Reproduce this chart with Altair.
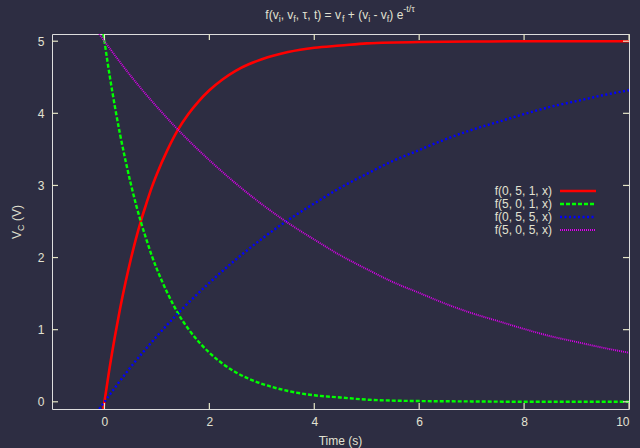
import altair as alt
import pandas as pd

# ---- data ----
x_fast = [-0.02, 0, 0.1, 0.2, 0.3, 0.4, 0.5, 0.6, 0.7, 0.8, 0.9, 1.0, 1.2, 1.4, 1.6, 1.8,
          2.0, 2.25, 2.5, 2.75, 3.0, 3.5, 4.0, 4.5, 5, 6, 7, 8, 9, 10]
y_rise_fast = [-0.10, 0.0, 0.48, 0.91, 1.30, 1.65, 1.97, 2.26, 2.52, 2.75, 2.97, 3.16, 3.49,
               3.77, 3.99, 4.17, 4.32, 4.47, 4.59, 4.68, 4.75, 4.85, 4.91, 4.94, 4.97, 4.99,
               4.995, 5.0, 5.0, 5.0]
y_decay_fast = [5.10, 5.0, 4.52, 4.09, 3.70, 3.35, 3.03, 2.74, 2.48, 2.25, 2.03, 1.84, 1.51,
                1.23, 1.01, 0.83, 0.68, 0.53, 0.41, 0.32, 0.25, 0.15, 0.09, 0.06, 0.03, 0.01,
                0.005, 0.0, 0.0, 0.0]
x_slow = [-0.1, 0, 0.5, 1, 1.5, 2, 2.5, 3, 3.5, 4, 4.5, 5, 5.5, 6, 6.5, 7, 7.5, 8, 8.5, 9,
          9.5, 10]
y_rise_slow = [-0.10, 0.0, 0.48, 0.91, 1.30, 1.65, 1.97, 2.26, 2.52, 2.75, 2.97, 3.16, 3.34,
               3.49, 3.64, 3.77, 3.88, 3.99, 4.09, 4.17, 4.25, 4.32]
y_decay_slow = [5.10, 5.0, 4.52, 4.09, 3.70, 3.35, 3.03, 2.74, 2.48, 2.25, 2.03, 1.84, 1.66,
                1.51, 1.36, 1.23, 1.12, 1.01, 0.91, 0.83, 0.75, 0.68]

series_names = ["f(0, 5, 1, x)", "f(5, 0, 1, x)", "f(0, 5, 5, x)", "f(5, 0, 5, x)"]
x_ticks = [0, 2, 4, 6, 8, 10]
y_ticks = [0, 1, 2, 3, 4, 5]

# ---- styling ----
BG = "#2d2d42"
FG = "#e6e6c6"
TXT = "#e2e2d2"
FONT = "Liberation Sans"
W, H = 577, 375

styles = [
    dict(color="#ff0000", strokeWidth=2.6),
    dict(color="#00ff00", strokeWidth=2.4, strokeDash=[4, 2]),
    dict(color="#0000ff", strokeWidth=2.4, strokeDash=[2, 2.5]),
    dict(color="#dd00ee", strokeWidth=1.9, strokeDash=[1, 1]),
]

xs = alt.Scale(domain=[-1, 10], nice=False, zero=False)
ys = alt.Scale(domain=[-0.1, 5.1], nice=False, zero=False)
xaxis = alt.Axis(values=x_ticks, title=None, labelPadding=7, ticks=False, domain=False,
                 grid=False, labelFontSize=12, labelColor=TXT, labelFont=FONT, format="d")
yaxis = alt.Axis(values=y_ticks, title=None, labelPadding=8, ticks=False, domain=False,
                 grid=False, labelFontSize=12, labelColor=TXT, labelFont=FONT, format="d")

series = [(x_fast, y_rise_fast), (x_fast, y_decay_fast),
          (x_slow, y_rise_slow), (x_slow, y_decay_slow)]

layers = []
for (xv, yv), st in zip(series, styles):
    df = pd.DataFrame({"x": xv, "y": yv})
    layers.append(alt.Chart(df).mark_line(clip=True, interpolate="monotone", **st)
                  .encode(x=alt.X("x:Q", scale=xs, axis=xaxis),
                          y=alt.Y("y:Q", scale=ys, axis=yaxis)))

# ---- inward tick marks on all four sides ----
yt = pd.DataFrame({"y": y_ticks})
xt = pd.DataFrame({"x": x_ticks})
TL = 6
layers.append(alt.Chart(yt).mark_rule(color=FG, strokeWidth=1.2).encode(
    y=alt.Y("y:Q", scale=ys, axis=yaxis), x=alt.value(0), x2=alt.value(TL)))
layers.append(alt.Chart(yt).mark_rule(color=FG, strokeWidth=1.2).encode(
    y=alt.Y("y:Q", scale=ys, axis=yaxis), x=alt.value(W - TL), x2=alt.value(W)))
layers.append(alt.Chart(xt).mark_rule(color=FG, strokeWidth=1.2).encode(
    x=alt.X("x:Q", scale=xs, axis=xaxis), y=alt.value(H - TL), y2=alt.value(H)))
layers.append(alt.Chart(xt).mark_rule(color=FG, strokeWidth=1.2).encode(
    x=alt.X("x:Q", scale=xs, axis=xaxis), y=alt.value(0), y2=alt.value(TL)))

one = pd.DataFrame({"a": [0]})

# ---- legend ----
row_y = [157, 170, 183, 196]
for name, st, ry in zip(series_names, styles, row_y):
    layers.append(alt.Chart(one).mark_text(align="right", baseline="middle", font=FONT,
                                           fontSize=12, color=TXT)
                  .encode(x=alt.value(500), y=alt.value(ry), text=alt.value(name)))
    layers.append(alt.Chart(one).mark_rule(**st)
                  .encode(x=alt.value(508), x2=alt.value(544), y=alt.value(ry)))

# ---- text with sub/superscripts (Arial-metric widths) ----
WID = {" ": 278, "(": 333, ")": 333, ",": 278, "-": 333, "/": 278, "=": 584,
       "+": 584, "e": 556, "f": 278, "i": 222, "t": 278, "v": 500, "τ": 480, "V": 667,
       "C": 722, "s": 500, "x": 500}


def tw(s, size):
    return sum(WID.get(c, 556) for c in s) * size / 1000.0


def split_ws(t):
    lead = len(t) - len(t.lstrip(" "))
    trail = len(t) - len(t.rstrip(" "))
    return lead, t.strip(" "), trail


title_pieces = [("f(v", 12, 0), ("i", 9, 3), (", v", 12, 0), ("f", 9, 3),
                (", τ, t) = v", 12, 0), ("f", 9, 3), (" + (v", 12, 0), ("i", 9, 3),
                (" - v", 12, 0), ("f", 9, 3), (") e", 12, 0), ("-t/τ", 9, -7)]
total = sum(tw(t, s) for t, s, _ in title_pieces)
cx = W / 2 - total / 2
for t, s, dy in title_pieces:
    lead, core, trail = split_ws(t)
    cx += lead * tw(" ", s)
    layers.append(alt.Chart(one).mark_text(align="left", baseline="alphabetic", font=FONT,
                                           fontSize=s, color=TXT)
                  .encode(x=alt.value(cx), y=alt.value(-15 + dy), text=alt.value(core)))
    cx += tw(core, s) + trail * tw(" ", s)

ylab_pieces = [("V", 12, 0), ("C", 9, 3), (" (V)", 12, 0)]
total = sum(tw(t, s) for t, s, _ in ylab_pieces)
cy = 188 + total / 2
for t, s, dx in ylab_pieces:
    lead, core, trail = split_ws(t)
    cy -= lead * tw(" ", s)
    layers.append(alt.Chart(one).mark_text(align="left", baseline="alphabetic", font=FONT,
                                           fontSize=s, color=TXT, angle=270)
                  .encode(x=alt.value(-31 + dx), y=alt.value(cy), text=alt.value(core)))
    cy -= tw(core, s) + trail * tw(" ", s)

layers.append(alt.Chart(one).mark_text(align="center", baseline="middle", font=FONT,
                                       fontSize=12, color=TXT)
              .encode(x=alt.value(W / 2), y=alt.value(407), text=alt.value("Time (s)")))

chart = (alt.layer(*layers)
         .properties(width=W, height=H, background=BG,
                     padding={"left": 52, "top": 34, "right": 11, "bottom": 39},
                     autosize=alt.AutoSizeParams(type="none"))
         .configure_view(stroke=FG, strokeWidth=1.6, fill=BG)
         .configure(font=FONT))

chart.save("out.html", embed_options={"renderer": "svg", "actions": False})
